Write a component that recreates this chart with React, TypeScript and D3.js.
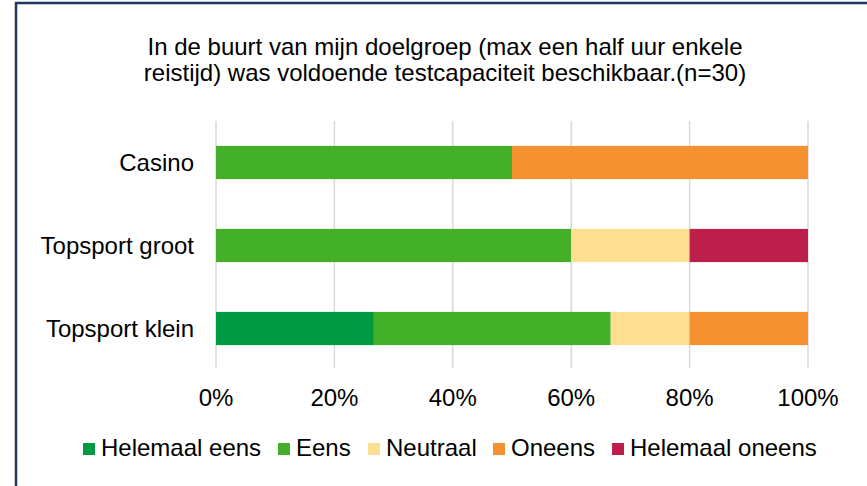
import React from "react";
import * as d3 from "d3";

const categories = ["Casino", "Topsport groot", "Topsport klein"];
const seriesNames = ["Helemaal eens", "Eens", "Neutraal", "Oneens", "Helemaal oneens"];
const seriesColors = ["#009a44", "#44b02a", "#fedf92", "#f59131", "#be1e4b"];
const helemaalEens = [0, 0, 26.67];
const eens = [50, 60, 40];
const neutraal = [0, 20, 13.33];
const oneens = [50, 0, 20];
const helemaalOneens = [0, 20, 0];
const tickValues = [0, 0.2, 0.4, 0.6, 0.8, 1.0];
const titleLines = [
  "In de buurt van mijn doelgroep (max een half uur enkele",
  "reistijd) was voldoende testcapaciteit beschikbaar.(n=30)",
];

const W = 867;
const H = 486;
const font = "'Liberation Sans', Arial, sans-serif";
const FS = 24;

export default function App() {
  const values = [helemaalEens, eens, neutraal, oneens, helemaalOneens];
  const rows = categories.map((c, i) => {
    const r: any = { cat: c };
    seriesNames.forEach((s, j) => (r[s] = values[j][i] / 100));
    return r;
  });
  const stack = d3.stack<any>().keys(seriesNames);
  const layers = stack(rows);

  const x = d3.scaleLinear().domain([0, 1]).range([216, 808]);
  const y = d3.scaleBand().domain(categories).range([121, 370]).paddingInner(0.6).paddingOuter(0.3);

  const legendX = [83, 278, 368, 493, 612];

  return (
    <svg width={W} height={H} style={{ position: "absolute", left: 0, top: 0, fontFamily: font }}>
      <rect x={0} y={0} width={W} height={H} fill="#fff" />
      <line x1={15} x2={W} y1={3} y2={3} stroke="#1f3864" strokeWidth={2.5} />
      <line x1={16} x2={16} y1={2} y2={H} stroke="#1f3864" strokeWidth={2.5} />
      {titleLines.map((t, i) => (
        <text key={i} x={445} y={55 + i * 26} textAnchor="middle" fontSize={FS} fill="#000">
          {t}
        </text>
      ))}
      {tickValues.map((t) => (
        <line key={t} x1={x(t)} x2={x(t)} y1={121} y2={368} stroke="#d9d9d9" strokeWidth={1.5} />
      ))}
      {layers.map((layer, li) => (
        <g key={layer.key} fill={seriesColors[li]}>
          {layer.map((d, i) =>
            d[1] - d[0] > 0 ? (
              <rect
                key={i}
                x={x(d[0])}
                y={y(categories[i])!}
                width={x(d[1]) - x(d[0])}
                height={y.bandwidth()}
              />
            ) : null
          )}
        </g>
      ))}
      {categories.map((c) => (
        <text key={c} x={194} y={y(c)! + y.bandwidth() / 2 + 8} textAnchor="end" fontSize={FS} fill="#000">
          {c}
        </text>
      ))}
      {tickValues.map((t) => (
        <text key={t} x={x(t)} y={406} textAnchor="middle" fontSize={FS} fill="#000">
          {d3.format(".0%")(t)}
        </text>
      ))}
      {seriesNames.map((s, i) => (
        <g key={s}>
          <rect x={legendX[i]} y={443} width={12} height={12} fill={seriesColors[i]} />
          <text x={legendX[i] + 18} y={456} fontSize={FS} fill="#000">
            {s}
          </text>
        </g>
      ))}
    </svg>
  );
}
